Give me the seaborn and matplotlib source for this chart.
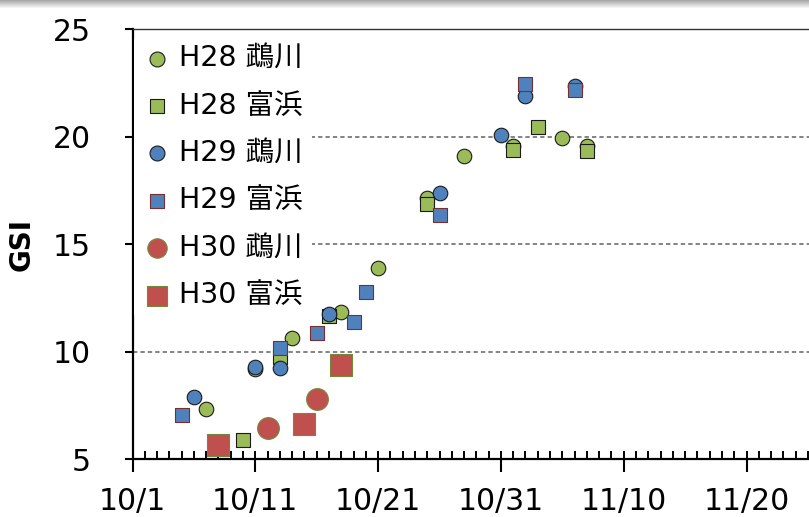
import numpy as np
import pandas as pd
import matplotlib
matplotlib.use("Agg")
import matplotlib.pyplot as plt
import matplotlib.dates as mdates
import seaborn as sns

# ---------------- data (month/day; GSI) ----------------
YEAR = 2018  # common plotting year so seasons line up by month/day
series_labels = ["H28 鵡川", "H28 富浜", "H29 鵡川", "H29 富浜", "H30 鵡川", "H30 富浜"]

h28_mukawa_dates = ["10/7", "10/11", "10/14", "10/18", "10/21", "10/25", "10/28", "11/1", "11/5", "11/7"]
h28_mukawa_gsi = [7.32, 9.20, 10.65, 11.83, 13.89, 17.17, 19.12, 19.58, 19.95, 19.58]

h28_tomihama_dates = ["10/10", "10/13", "10/17", "10/25", "11/1", "11/3", "11/7"]
h28_tomihama_gsi = [5.89, 9.75, 11.67, 16.86, 19.40, 20.43, 19.33]

h29_mukawa_dates = ["10/6", "10/11", "10/13", "10/17", "10/26", "10/31", "11/2", "11/6"]
h29_mukawa_gsi = [7.91, 9.30, 9.26, 11.75, 17.37, 20.08, 21.90, 22.37]

h29_tomihama_dates = ["10/5", "10/13", "10/16", "10/19", "10/20", "10/26", "11/2", "11/6"]
h29_tomihama_gsi = [7.06, 10.16, 10.88, 11.40, 12.79, 16.37, 22.43, 22.16]

h30_mukawa_dates = ["10/12", "10/16"]
h30_mukawa_gsi = [6.44, 7.80]

h30_tomihama_dates = ["10/8", "10/15", "10/18"]
h30_tomihama_gsi = [5.66, 6.64, 9.38]

x_tick_labels = ["10/1", "10/11", "10/21", "10/31", "11/10", "11/20"]
y_ticks = [5, 10, 15, 20, 25]

# ---------------- styling ----------------
sns.set_theme(style="white")
plt.rcParams["font.family"] = ["DejaVu Sans", "Noto Sans CJK JP"]
plt.rcParams["text.color"] = "black"
plt.rcParams["axes.labelcolor"] = "black"
plt.rcParams["xtick.color"] = "black"
plt.rcParams["ytick.color"] = "black"


def to_dt(md_list):
    return pd.to_datetime([f"{YEAR}/{md}" for md in md_list], format="%Y/%m/%d")


GREEN, BLUE, RED = "#9BBB59", "#4F81BD", "#C0504D"
styles = [
    dict(marker="o", color=GREEN, edgecolor="#1a1a1a", s=110),
    dict(marker="s", color=GREEN, edgecolor="#1a1a1a", s=110),
    dict(marker="o", color=BLUE, edgecolor="#1a1a1a", s=110),
    dict(marker="s", color=BLUE, edgecolor="#7a2e2e", s=110),
    dict(marker="o", color=RED, edgecolor="#73883a", s=245),
    dict(marker="s", color=RED, edgecolor="#73883a", s=245),
]
series_data = [
    (h28_mukawa_dates, h28_mukawa_gsi),
    (h28_tomihama_dates, h28_tomihama_gsi),
    (h29_mukawa_dates, h29_mukawa_gsi),
    (h29_tomihama_dates, h29_tomihama_gsi),
    (h30_mukawa_dates, h30_mukawa_gsi),
    (h30_tomihama_dates, h30_tomihama_gsi),
]

W, H = 809, 517
fig = plt.figure(figsize=(W / 100, H / 100), dpi=100)
fig.patch.set_facecolor("white")

left_px, right_px, top_px, bottom_px = 132.5, 809.0, 29.2, 459.2
ax = fig.add_axes([left_px / W, (H - bottom_px) / H,
                   (right_px - left_px) / W, (bottom_px - top_px) / H])
ax.set_facecolor("white")

for (dates, vals), lab, st in zip(series_data, series_labels, styles):
    df = pd.DataFrame({"date": to_dt(dates), "gsi": vals})
    sns.scatterplot(data=df, x="date", y="gsi", ax=ax, label=lab,
                    marker=st["marker"], color=st["color"],
                    edgecolor=st["edgecolor"], linewidth=0.8, s=st["s"],
                    zorder=3, clip_on=False)

# axes limits
start = pd.Timestamp(f"{YEAR}-10-01")
px_per_day = 12.28
ax.set_xlim(mdates.date2num(start),
            mdates.date2num(start) + (right_px - left_px) / px_per_day)
ax.set_ylim(5, 25)

# x ticks
tick_dates = to_dt(x_tick_labels)
ax.xaxis.set_major_locator(matplotlib.ticker.FixedLocator(mdates.date2num(tick_dates)))
ax.xaxis.set_major_formatter(matplotlib.ticker.FixedFormatter(x_tick_labels))
ax.xaxis.set_minor_locator(mdates.DayLocator())
ax.xaxis.remove_overlapping_locs = False
ax.tick_params(axis="x", which="major", direction="out", length=9, width=1.5,
               color="black", labelcolor="black", labelsize=21.5, pad=11, bottom=True)
ax.tick_params(axis="x", which="minor", direction="in", length=5.5, width=1.4,
               color="black", bottom=True)

# y ticks
ax.set_yticks(y_ticks)
ax.set_yticklabels([str(v) for v in y_ticks])
ax.tick_params(axis="y", which="major", direction="out", length=6, width=1.5,
               color="black", labelcolor="black", labelsize=21.5, pad=24, left=True)

ax.set_xlabel("")
ax.set_ylabel("GSI", fontsize=20, fontweight="bold", color="black")
ax.yaxis.set_label_coords((21.7 - left_px) / (right_px - left_px), 0.5)
ax.yaxis.label.set_verticalalignment("center")

# grid
ax.yaxis.grid(True, linestyle=(0, (2.4, 1.7)), color="#7a7a7a", linewidth=1.3)
ax.xaxis.grid(False)
ax.set_axisbelow(True)

for side in ["left", "bottom"]:
    ax.spines[side].set_visible(True)
    ax.spines[side].set_color("black")
    ax.spines[side].set_linewidth(1.6)
ax.spines["top"].set_visible(True)
ax.spines["top"].set_color("#333333")
ax.spines["top"].set_linewidth(1.0)
ax.spines["right"].set_visible(False)

# legend
handles, labels = ax.get_legend_handles_labels()
leg = ax.legend(handles, labels, loc="upper left",
                bbox_to_anchor=(0.002, 0.985), borderaxespad=0,
                frameon=True, facecolor="white", edgecolor="none", framealpha=1,
                fontsize=20.5, handlelength=1.0, handletextpad=0.3,
                labelspacing=0.68, borderpad=0.3)
leg.set_zorder(5)
for h, lab in zip(leg.legend_handles, labels):
    if lab.startswith("H30"):
        h.set_sizes([195])
    else:
        h.set_sizes([115])

# faint shaded band at the top edge of the image
band_h = 9
grad = np.linspace(0.66, 1.0, band_h)[:, None] * np.ones((band_h, W))
img = np.dstack([grad, grad, grad])
fig.figimage(img, xo=0, yo=H - band_h, origin="upper", zorder=10)

fig.savefig("out.png", dpi=100, facecolor="white")
